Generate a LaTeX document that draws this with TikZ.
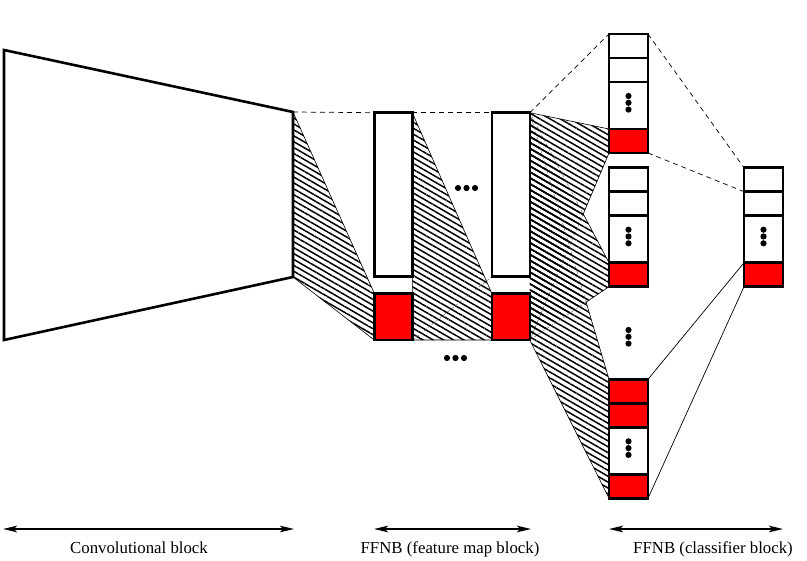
\documentclass[tikz,border=0pt]{standalone}
\usepackage{fontspec}
\setmainfont{Liberation Serif}
\usepackage{tikz}
\tikzset{every picture/.style={font issue=\fontsize{16.8pt}{20pt}},
         font issue/.style={execute at begin picture={#1\selectfont}}
        }
\usetikzlibrary{arrows.meta,shapes}
\usetikzlibrary{patterns.meta}
\usetikzlibrary{positioning}
\usetikzlibrary{backgrounds}
\tikzstyle{cell}=[draw,rectangle,line width=2.6pt,fill=white,inner sep=0,outer sep=0,minimum width=39pt,minimum height=24pt]
\tikzstyle{redcell}=[cell,fill=red]
\tikzstyle{dotcell}=[cell,minimum height=47pt]
\tikzstyle{fmap}=[cell,minimum width=38pt,minimum height=164pt]
\tikzstyle{fmapred}=[redcell,minimum width=38pt,minimum height=46.7pt]
\tikzstyle{hatch}=[pattern={Lines[angle=-30,distance=5.1pt,line width=1.5pt]}]
\tikzstyle{rim}=[draw,line width=0.6pt]
\tikzstyle{inner}=[draw,line width=0.4pt,densely dashed,black!70]
\tikzstyle{guide}=[draw,line width=0.7pt,dash pattern=on 5pt off 4pt]
\tikzstyle{link}=[draw,line width=0.7pt]
\tikzstyle{blockspan}=[>={Stealth[length=14pt,width=6.5pt,inset=3pt]},draw,line width=2.2pt,<->]

\begin{document}
\begin{tikzpicture}[x=1pt,y=-1pt]

	\useasboundingbox (0,0) rectangle (807,561);

% % % Convolutional block
	\coordinate (cv1) at (4,50);
	\coordinate (cv2) at (4,340);
	\coordinate (cv3) at (293,112);
	\coordinate (cv4) at (293,277);

	\path[draw,line width=2.6pt,line join=miter] (cv1) -- (cv3) -- (cv4) -- (cv2) -- cycle;

% % % Feature map block
	\node[fmap] (fm1) at (393.3,194.7) {};
	\node[fmapred] (fm1r) at (393.3,316.7) {};
	\node[fmap] (fm2) at (510.8,194.7) {};
	\node[fmapred] (fm2r) at (510.8,316.7) {};

	\fill (458,188) circle (3.1pt) (466.5,188) circle (3.1pt) (475,188) circle (3.1pt);
	\fill (447,358) circle (3.1pt) (455.5,358) circle (3.1pt) (464,358) circle (3.1pt);

% % % Classifier block
	\node[cell,anchor=north] (a1) at (628.5,34) {};
	\node[cell,below=0pt of a1] (a2) {};
	\node[dotcell,below=0pt of a2] (a3) {};
	\node[redcell,below=0pt of a3] (a4) {};

	\node[cell,anchor=north] (b1) at (628.5,167.7) {};
	\node[cell,below=0pt of b1] (b2) {};
	\node[dotcell,below=0pt of b2] (b3) {};
	\node[redcell,below=0pt of b3] (b4) {};

	\node[redcell,anchor=north] (c1) at (628.5,379.3) {};
	\node[redcell,below=0pt of c1] (c2) {};
	\node[dotcell,below=0pt of c2] (c3) {};
	\node[redcell,below=0pt of c3] (c4) {};

	\node[cell,anchor=north] (d1) at (763.5,167.7) {};
	\node[cell,below=0pt of d1] (d2) {};
	\node[dotcell,below=0pt of d2] (d3) {};
	\node[redcell,below=0pt of d3] (d4) {};

	\fill (a3.center) ++(0,-9.5) circle (3.1pt) ++(0,6.8) circle (3.1pt) ++(0,6.8) circle (3.1pt);
	\fill (b3.center) ++(0,-9.5) circle (3.1pt) ++(0,6.8) circle (3.1pt) ++(0,6.8) circle (3.1pt);
	\fill (c3.center) ++(0,-9.5) circle (3.1pt) ++(0,6.8) circle (3.1pt) ++(0,6.8) circle (3.1pt);
	\fill (d3.center) ++(0,-9.5) circle (3.1pt) ++(0,6.8) circle (3.1pt) ++(0,6.8) circle (3.1pt);
	\fill (628.5,330) circle (3.1pt) ++(0,6.8) circle (3.1pt) ++(0,6.8) circle (3.1pt);

% % % Mappings
	\coordinate (x1) at (intersection of fm2.north east--b4.north west and a4.south west--fm2r.south east);
	\coordinate (x2) at (intersection of fm2.north east--c1.north west and b4.south west--fm2r.south east);

	\begin{pgfonlayer}{background}
	\path[hatch,rim] (cv3) -- (fm1r.north west) -- (fm1r.south west) -- (cv4) -- cycle;
	\path[hatch,rim] (fm1.north east) -- (fm2r.north west) -- (fm2r.south west) -- (fm1r.south east) -- cycle;
	\path[inner] (fm1r.south east) -- (fm2.south west);

	\path[hatch] (fm2.north east) -- (a4.north west) -- (a4.south west) -- (fm2r.south east) -- cycle;
	\path[hatch] (fm2.north east) -- (b4.north west) -- (b4.south west) -- (fm2r.south east) -- cycle;
	\path[hatch] (fm2.north east) -- (c1.north west) -- (c4.south west) -- (fm2r.south east) -- cycle;
	\path[inner] (fm2.north east) -- (x1) (x1) -- (fm2r.south east);
	\path[inner] (fm2.north east) -- (x2) (x2) -- (fm2r.south east);
	\path[rim] (fm2.north east) -- (a4.north west) -- (a4.south west) -- (x1)
		-- (b4.north west) -- (b4.south west) -- (x2)
		-- (c1.north west) -- (c4.south west) -- (fm2r.south east);
	\end{pgfonlayer}

	\path[guide] (cv3) -- (fm1.north west);
	\path[guide] (fm1.north east) -- (fm2.north west);
	\path[guide] (fm2.north east) -- (a1.north west);
	\path[guide] (a1.north east) -- (d1.north west);
	\path[guide] (a4.south east) -- (d1.south west);

	\path[link] (c1.north east) -- (d4.north west);
	\path[link] (c4.south east) -- (d4.south west);

% % % Labels
	\coordinate (cb1) at (3,529);
	\coordinate (cb2) at (294,529);
	\coordinate (fb1) at (374,529);
	\coordinate (fb2) at (531,529);
	\coordinate (kb1) at (609,529);
	\coordinate (kb2) at (783,529);

	\path[blockspan] (cb1) -- (cb2);
	\path[blockspan] (fb1) -- (fb2);
	\path[blockspan] (kb1) -- (kb2);

	\node[anchor=base] (cbl) at (139,554) {Convolutional block};
	\node[anchor=base] (fbl) at (450,554) {FFNB (feature map block)};
	\node[anchor=base] (kbl) at (713,554) {FFNB (classifier block)};

\end{tikzpicture}
\end{document}
